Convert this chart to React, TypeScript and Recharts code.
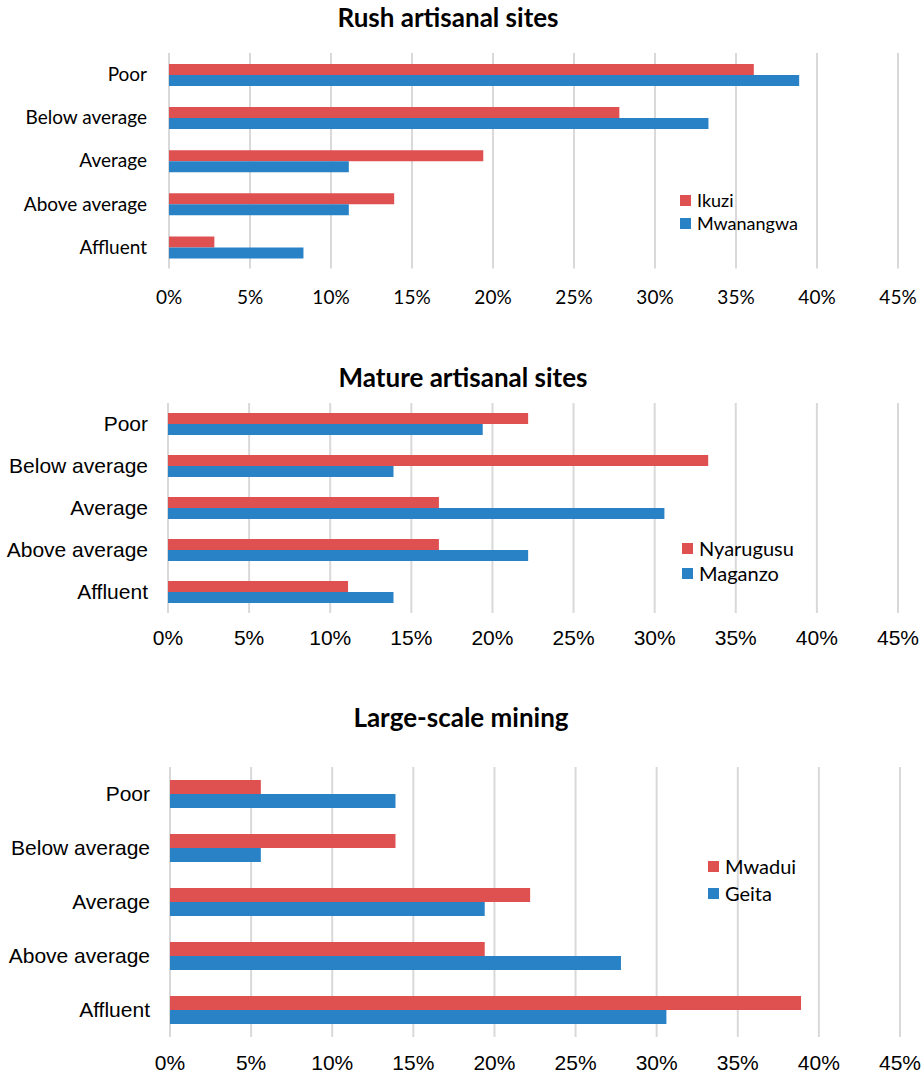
import { BarChart, Bar, XAxis, YAxis, CartesianGrid, Legend } from "recharts";

// Household wealth ranking by site, share of respondents (%)
const categories = ["Poor", "Below average", "Average", "Above average", "Affluent"];

const ikuzi = [36.1, 27.8, 19.4, 13.9, 2.8];
const mwanangwa = [38.9, 33.3, 11.1, 11.1, 8.3];

const nyarugusu = [22.2, 33.3, 16.7, 16.7, 11.1];
const maganzo = [19.4, 13.9, 30.6, 22.2, 13.9];

const mwadui = [5.6, 13.9, 22.2, 19.4, 38.9];
const geita = [13.9, 5.6, 19.4, 27.8, 30.6];

const pctTicks = [0, 5, 10, 15, 20, 25, 30, 35, 40, 45];

const RED = "#DF5050";
const BLUE = "#2882C5";
const GRID = "#D9D9D9";

const CALIBRI_ISH = "Lato, 'Open Sans', sans-serif";
const ARIAL = "'Liberation Sans', Arial, sans-serif";

interface PanelProps {
  title: string;
  titleX: number;
  titleY: number;
  top: number;
  height: number;
  marginTop: number;
  plotHeight: number;
  axisLeft: number;
  axisRight: number;
  barSize: number;
  names: [string, string];
  a: number[];
  b: number[];
  font: string;
  fontSize: number;
  xTickMargin: number;
  yTickMargin: number;
  legendLeft: number;
  legendTop: number;
  legendRow: number;
  legendSize: number;
}

function Panel(p: PanelProps) {
  const data = categories.map((cat, i) => ({ cat, a: p.a[i], b: p.b[i] }));
  const titleSize = 26;

  return (
    <div style={{ position: "absolute", left: 0, top: p.top, width: 921, height: p.height }}>
      <div
        style={{
          position: "absolute",
          left: p.titleX - 300,
          top: p.titleY - 14 - p.top,
          width: 600,
          textAlign: "center",
          fontFamily: CALIBRI_ISH,
          fontWeight: 700,
          fontSize: titleSize,
          lineHeight: `${titleSize}px`,
          color: "#000",
        }}
      >
        {p.title}
      </div>
      <BarChart
        width={921}
        height={p.height}
        data={data}
        layout="vertical"
        barGap={0}
        margin={{ top: p.marginTop, right: 921 - p.axisRight, bottom: 0, left: 0 }}
      >
        <CartesianGrid horizontal={false} stroke={GRID} strokeWidth={2} />
        <XAxis
          type="number"
          domain={[0, 45]}
          ticks={pctTicks}
          tickFormatter={(v) => `${v}%`}
          axisLine={false}
          tickLine={false}
          tickSize={0}
          tickMargin={p.xTickMargin}
          height={p.height - p.marginTop - p.plotHeight}
          tick={{ fill: "#000", fontFamily: p.font, fontSize: p.fontSize }}
          interval={0}
        />
        <YAxis
          type="category"
          dataKey="cat"
          width={p.axisLeft}
          axisLine={false}
          tickLine={false}
          tickSize={0}
          tickMargin={p.yTickMargin}
          tick={{ fill: "#000", fontFamily: p.font, fontSize: p.fontSize }}
          interval={0}
        />
        <Legend
          layout="vertical"
          verticalAlign="middle"
          align="center"
          wrapperStyle={{ position: "absolute", left: p.legendLeft, top: p.legendTop - p.top, width: "auto" }}
          content={({ payload }) => {
            // keep series order rather than alphabetical
            const items = [...(payload || [])].sort(
              (x: any, y: any) => p.names.indexOf(x.value) - p.names.indexOf(y.value)
            );
            return (
              <div>
                {items.map((item: any) => (
                  <div
                    key={item.value}
                    style={{ display: "flex", alignItems: "center", height: p.legendRow }}
                  >
                    <span
                      style={{
                        display: "inline-block",
                        width: 11,
                        height: 11,
                        background: item.color,
                        marginRight: 6,
                      }}
                    />
                    <span style={{ fontFamily: CALIBRI_ISH, fontSize: p.legendSize, color: "#000" }}>
                      {item.value}
                    </span>
                  </div>
                ))}
              </div>
            );
          }}
        />
        <Bar dataKey="a" name={p.names[0]} fill={RED} barSize={p.barSize} isAnimationActive={false} />
        <Bar dataKey="b" name={p.names[1]} fill={BLUE} barSize={p.barSize} isAnimationActive={false} />
      </BarChart>
    </div>
  );
}

export default function App() {
  return (
    <div style={{ position: "absolute", left: 0, top: 0, width: 921, height: 1074, background: "#fff" }}>
      <Panel
        title="Rush artisanal sites"
        titleX={448}
        titleY={18}
        top={30}
        height={290}
        marginTop={23}
        plotHeight={215.5}
        axisLeft={169}
        axisRight={898}
        barSize={11}
        names={["Ikuzi", "Mwanangwa"]}
        a={ikuzi}
        b={mwanangwa}
        font={CALIBRI_ISH}
        fontSize={19}
        xTickMargin={22}
        yTickMargin={22}
        legendLeft={680}
        legendTop={188.5}
        legendRow={23}
        legendSize={18}
      />
      <Panel
        title="Mature artisanal sites"
        titleX={463}
        titleY={378}
        top={390}
        height={290}
        marginTop={13}
        plotHeight={210}
        axisLeft={168}
        axisRight={898}
        barSize={11}
        names={["Nyarugusu", "Maganzo"]}
        a={nyarugusu}
        b={maganzo}
        font={ARIAL}
        fontSize={21}
        xTickMargin={17}
        yTickMargin={20}
        legendLeft={682}
        legendTop={535.5}
        legendRow={25}
        legendSize={20}
      />
      <Panel
        title="Large-scale mining"
        titleX={461}
        titleY={718}
        top={730}
        height={344}
        marginTop={37}
        plotHeight={270}
        axisLeft={170}
        axisRight={900}
        barSize={14}
        names={["Mwadui", "Geita"]}
        a={mwadui}
        b={geita}
        font={ARIAL}
        fontSize={21}
        xTickMargin={18}
        yTickMargin={20}
        legendLeft={708}
        legendTop={852.5}
        legendRow={27}
        legendSize={20}
      />
    </div>
  );
}
